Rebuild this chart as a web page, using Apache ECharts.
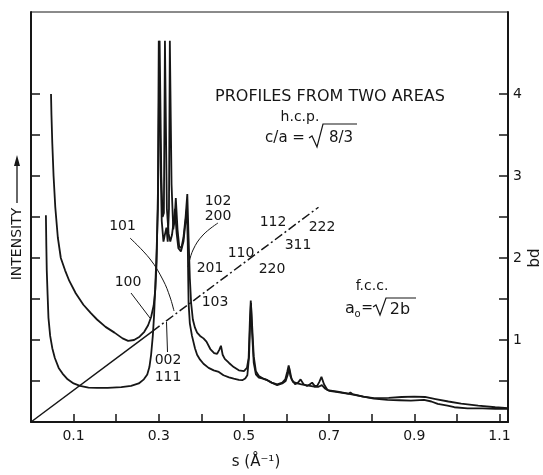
<!DOCTYPE html>
<html><head><meta charset="utf-8">
<script src="https://cdn.jsdelivr.net/npm/echarts@6/dist/echarts.min.js"></script>
<style>html,body{margin:0;padding:0;background:#fff}#c{width:543px;height:475px}</style>
</head><body><div id="c"></div>
<script>
// ---- data (s in 1/Å, intensity on the bd scale) ----
const curveAx = [0.047,0.048,0.050,0.053,0.057,0.063,0.070,0.080,0.090,0.105,0.123,0.140,0.155,0.175,0.196,0.215,0.228,0.242,0.255,0.266,0.275,0.282,0.288,0.292,0.295,0.298,0.300,0.3015,0.304,0.307,0.311,0.315,0.318,0.321,0.324,0.326,0.3275,0.330,0.334,0.337,0.340,0.344,0.348,0.353,0.358,0.363,0.367,0.370,0.373,0.376,0.380,0.385,0.390,0.397,0.405,0.412,0.421,0.430,0.437,0.442,0.446,0.450,0.455,0.465,0.476,0.488,0.500,0.507,0.511,0.514,0.516,0.519,0.523,0.528,0.535,0.545,0.555,0.565,0.578,0.590,0.597,0.602,0.605,0.608,0.612,0.620,0.627,0.633,0.640,0.648,0.655,0.660,0.666,0.672,0.677,0.682,0.688,0.696,0.72,0.745,0.75,0.755,0.78,0.805,0.84,0.87,0.90,0.925,0.95,0.98,1.01,1.05,1.09,1.12];
const curveAy = [4.00,3.75,3.40,3.00,2.62,2.25,2.00,1.85,1.72,1.57,1.43,1.33,1.25,1.16,1.09,1.02,0.99,1.00,1.04,1.10,1.18,1.28,1.42,1.62,1.95,2.8,4.65,4.65,3.2,2.45,2.2,2.3,2.37,2.2,2.6,4.65,4.65,2.9,2.35,2.45,2.73,2.35,2.14,2.12,2.25,2.5,2.78,2.25,1.75,1.45,1.25,1.15,1.09,1.05,1.02,0.98,0.89,0.84,0.83,0.88,0.93,0.82,0.77,0.72,0.67,0.63,0.62,0.66,0.78,1.25,1.48,1.2,0.80,0.62,0.56,0.53,0.51,0.48,0.46,0.48,0.52,0.62,0.69,0.62,0.52,0.46,0.48,0.52,0.46,0.44,0.46,0.48,0.44,0.44,0.49,0.55,0.46,0.39,0.37,0.345,0.36,0.34,0.31,0.29,0.295,0.305,0.31,0.305,0.28,0.25,0.225,0.20,0.18,0.17];
const curveBx = [0.035,0.036,0.037,0.039,0.041,0.045,0.050,0.056,0.065,0.074,0.086,0.100,0.115,0.135,0.155,0.180,0.212,0.235,0.253,0.265,0.273,0.278,0.282,0.286,0.289,0.292,0.295,0.298,0.3005,0.302,0.3035,0.306,0.309,0.312,0.3145,0.316,0.319,0.323,0.327,0.331,0.335,0.338,0.342,0.346,0.352,0.358,0.363,0.366,0.368,0.369,0.370,0.373,0.378,0.385,0.390,0.397,0.405,0.417,0.429,0.441,0.452,0.465,0.476,0.488,0.496,0.503,0.508,0.512,0.5145,0.5165,0.519,0.523,0.528,0.535,0.545,0.555,0.565,0.578,0.590,0.598,0.603,0.606,0.609,0.615,0.625,0.635,0.645,0.655,0.665,0.675,0.683,0.69,0.70,0.72,0.75,0.78,0.805,0.837,0.865,0.892,0.923,0.94,0.955,0.978,0.994,1.025,1.06,1.09,1.12];
const curveBy = [2.52,2.15,1.85,1.55,1.27,1.05,0.90,0.78,0.66,0.59,0.52,0.47,0.44,0.42,0.415,0.415,0.425,0.44,0.47,0.52,0.58,0.67,0.82,1.05,1.30,1.68,2.10,2.6,4.0,4.65,4.65,3.0,2.5,2.55,4.65,4.65,2.6,2.3,2.2,2.28,2.45,2.6,2.3,2.12,2.08,2.2,2.45,2.6,2.2,1.8,1.45,1.2,1.05,0.9,0.82,0.76,0.71,0.66,0.63,0.61,0.57,0.545,0.53,0.515,0.51,0.53,0.57,0.8,1.2,1.45,1.1,0.72,0.58,0.54,0.53,0.51,0.48,0.45,0.47,0.50,0.58,0.66,0.56,0.49,0.47,0.46,0.45,0.44,0.43,0.43,0.45,0.41,0.38,0.365,0.34,0.31,0.285,0.27,0.265,0.26,0.27,0.25,0.22,0.20,0.18,0.165,0.165,0.16,0.16];
const bdLineX = [0, 0.285, 0.675];
const bdLineY = [0, 1.106, 2.619];
const xTickValues = [0.1,0.2,0.3,0.4,0.5,0.6,0.7,0.8,0.9,1.0,1.1];
const xLabelValues = [0.1,0.3,0.5,0.7,0.9,1.1];
const yTickValues = [0.5,1,1.5,2,2.5,3,3.5,4];
const yLabelValues = [1,2,3,4];

const zip = (xs, ys) => xs.map((x, i) => [x, ys[i]]);
const INK = '#161616';
const FONT = '"DejaVu Sans", sans-serif';

const chart = echarts.init(document.getElementById('c'), null, {renderer: 'canvas'});

function txt(text, x, y, size, extra) {
  return Object.assign({type: 'text', x: x, y: y, style: {text: text, fill: INK,
    font: size + 'px ' + FONT, align: 'center', verticalAlign: 'middle'}}, extra || {});
}
function pl(points, smooth, w) {
  return {type: 'polyline', shape: {points: points, smooth: smooth || 0},
    style: {stroke: INK, lineWidth: w || 1, fill: null}};
}

const hkl = [
  ['101', 122.5, 226], ['100', 128, 282], ['102', 218, 201], ['200', 218, 216],
  ['112', 273, 222], ['222', 322, 227], ['311', 298, 245], ['110', 241, 253],
  ['220', 272, 269], ['201', 210, 268], ['103', 215, 302], ['002', 168, 360], ['111', 168, 377]
];

const graphics = [
  txt('PROFILES FROM TWO AREAS', 330, 97, 16),
  txt('h.c.p.', 300, 117, 14),
  txt('c/a =', 285, 138, 15),
  pl([[309,138],[312,136],[317,147],[323,124],[357,124]], 0, 1.2),
  txt('8/3', 341, 138, 15),
  txt('f.c.c.', 372, 286, 14),
  txt('a', 350, 309, 16),
  txt('o', 357.5, 314, 10),
  txt('=', 367, 308, 14),
  pl([[373,307],[376,305],[380,315],[386,298],[416,298]], 0, 1.2),
  txt('2b', 400, 310, 16),
  pl([[130,238],[150,259],[163,280],[170,297],[174,311]], 0.4, 1),
  pl([[131,293],[150,318]], 0, 1),
  pl([[218,223],[203,235],[193,250],[188,267]], 0.4, 1),
  pl([[166.5,322],[167.5,352]], 0, 1),
  txt('INTENSITY', 17, 244, 14, {rotation: Math.PI / 2}),
  pl([[17,203],[17,163]], 0, 1.3),
  {type: 'polygon', shape: {points: [[17,155],[14,166],[20,166]]}, style: {fill: INK}},
  txt('bd', 535, 258, 15, {rotation: Math.PI / 2}),
  txt('s (Å\u207B\u00B9)', 256, 462, 15)
];
hkl.forEach(h => graphics.push(txt(h[0], h[1], h[2], 14)));

const lineStyleBase = {color: INK, width: 1.8};
chart.setOption({
  animation: false,
  backgroundColor: '#fff',
  grid: {left: 31, right: 35, top: 12, bottom: 53, show: true, borderColor: INK, borderWidth: 1},
  xAxis: {
    type: 'value', min: 0, max: 1.12,
    axisLine: {lineStyle: {color: INK, width: 2}},
    axisTick: {inside: true, length: 8, customValues: xTickValues, lineStyle: {color: INK, width: 1.5}},
    axisLabel: {customValues: xLabelValues, formatter: v => v.toFixed(1), margin: 7,
      fontSize: 14, fontFamily: FONT, color: INK},
    splitLine: {show: false}
  },
  yAxis: [{
    type: 'value', min: 0, max: 5, position: 'left',
    axisLine: {show: true, lineStyle: {color: INK, width: 2}},
    axisTick: {show: true, inside: true, length: 9, customValues: yTickValues, lineStyle: {color: INK, width: 1.5}},
    axisLabel: {show: false}, splitLine: {show: false}
  }, {
    type: 'value', min: 0, max: 5, position: 'right',
    axisLine: {show: true, lineStyle: {color: INK, width: 2}},
    axisTick: {show: true, inside: true, length: 9, customValues: yTickValues, lineStyle: {color: INK, width: 1.5}},
    axisLabel: {show: true, customValues: yLabelValues, formatter: v => String(v), margin: 5,
      fontSize: 14, fontFamily: FONT, color: INK},
    splitLine: {show: false}
  }],
  series: [
    {type: 'line', data: zip(curveAx, curveAy), showSymbol: false, lineStyle: lineStyleBase, z: 3},
    {type: 'line', data: zip(curveBx, curveBy), showSymbol: false, lineStyle: lineStyleBase, z: 3},
    {type: 'line', data: zip(bdLineX.slice(0, 2), bdLineY.slice(0, 2)), showSymbol: false,
      lineStyle: {color: INK, width: 1.5}},
    {type: 'line', data: zip(bdLineX.slice(1), bdLineY.slice(1)), showSymbol: false,
      lineStyle: {color: INK, width: 1.5, type: [9, 3, 2, 3]}}
  ],
  graphic: graphics
});
</script>
</body></html>
